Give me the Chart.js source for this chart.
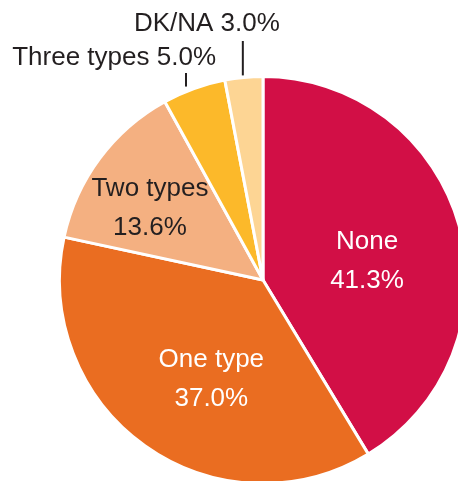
<!DOCTYPE html>
<html>
<head>
<meta charset="utf-8">
<script src="https://cdn.jsdelivr.net/npm/chart.js@4/dist/chart.umd.min.js"></script>
<style>
  html, body { margin: 0; padding: 0; background: #fff; overflow: hidden; }
  #wrap { position: relative; width: 458px; height: 481px; overflow: hidden; }
  canvas { position: absolute; left: 0; top: 0; }
</style>
</head>
<body>
<div id="wrap"><canvas id="pie" width="526" height="560"></canvas></div>
<script>
// data
const categories = ['None', 'One type', 'Two types', 'Three types', 'DK/NA'];
const shares = [41.3, 37.0, 13.6, 5.0, 3.0];
const colours = ['#d20f46', '#ea6d21', '#f4b081', '#fcb92a', '#fdd594'];

// label placement: inside labels sit at a fraction of the radius,
// outside ones get a leader line going straight up
const labelSetup = [
  { inside: true, frac: 0.52, shift: 5, colour: '#ffffff' },
  { inside: true, frac: 0.55, shift: -8, colour: '#ffffff' },
  { inside: true, frac: 0.66, shift: -4, colour: '#231f20' },
  { inside: false, lineTop: 73, dx: -8, textY: 58, textRight: 30 },
  { inside: false, lineTop: 41, dx: -1, textY: 24, textRight: 37 }
];

const FONT = '400 26px "Liberation Sans", Arial, sans-serif';

const pieLabels = {
  id: 'pieLabels',
  afterDatasetsDraw(chart) {
    const { ctx } = chart;
    const arcs = chart.getDatasetMeta(0).data;
    ctx.save();
    ctx.font = FONT;
    ctx.textBaseline = 'middle';
    arcs.forEach((arc, i) => {
      const cfg = labelSetup[i];
      const { x, y, startAngle, endAngle, outerRadius } = arc.getProps(['x', 'y', 'startAngle', 'endAngle', 'outerRadius'], true);
      const mid = (startAngle + endAngle) / 2;
      const txt = shares[i].toFixed(1) + '%';
      if (cfg.inside) {
        const a = mid + cfg.shift * Math.PI / 180;
        const r = outerRadius * cfg.frac;
        const px = x + Math.cos(a) * r;
        const py = y + Math.sin(a) * r;
        ctx.fillStyle = cfg.colour;
        ctx.textAlign = 'center';
        ctx.fillText(categories[i], px, py - 19);
        ctx.fillText(txt, px, py + 20);
      } else {
        const ex = x + Math.cos(mid) * outerRadius + cfg.dx;
        const ey = y + Math.sin(mid) * outerRadius;
        ctx.strokeStyle = '#231f20';
        ctx.lineWidth = 2;
        ctx.beginPath();
        ctx.moveTo(ex, ey - 2);
        ctx.lineTo(ex, cfg.lineTop);
        ctx.stroke();
        ctx.fillStyle = '#231f20';
        ctx.textAlign = 'right';
        ctx.fillText(categories[i] + ' ' + txt, ex + cfg.textRight, cfg.textY);
      }
    });
    ctx.restore();
  }
};

new Chart(document.getElementById('pie'), {
  type: 'pie',
  data: {
    labels: categories,
    datasets: [{
      data: shares,
      backgroundColor: colours,
      borderColor: '#ffffff',
      borderWidth: 3
    }]
  },
  options: {
    responsive: false,
    animation: false,
    devicePixelRatio: 1,
    layout: { padding: 58 },
    plugins: {
      legend: { display: false },
      tooltip: { enabled: false }
    }
  },
  plugins: [pieLabels]
});
</script>
</body>
</html>
